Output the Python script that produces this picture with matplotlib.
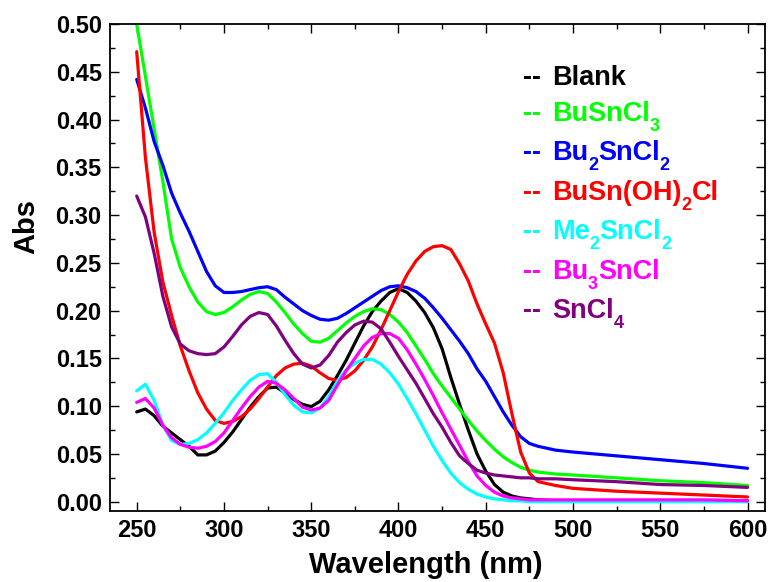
import matplotlib
matplotlib.use("Agg")
import matplotlib.pyplot as plt
from matplotlib.ticker import MultipleLocator, FormatStrFormatter

plt.rcParams['font.family'] = ['Liberation Sans', 'DejaVu Sans']
plt.rcParams['font.weight'] = 'bold'

wavelength = list(range(250, 481, 5)) + [490, 500, 525, 550, 575, 600]

blank = [0.094, 0.097, 0.090, 0.079, 0.072, 0.065, 0.058, 0.049, 0.049, 0.053,
         0.062, 0.073, 0.086, 0.099, 0.110, 0.119, 0.120, 0.114, 0.107, 0.102,
         0.0995, 0.105, 0.117, 0.132, 0.148, 0.166, 0.184, 0.199, 0.210, 0.219,
         0.223, 0.219, 0.210, 0.198, 0.182, 0.160, 0.130, 0.102, 0.075, 0.050,
         0.032, 0.018, 0.010, 0.006, 0.004, 0.003, 0.002,
         0.001, 0.001, 0.001, 0.001, 0.001, 0.001]

busncl3 = [0.500, 0.445, 0.390, 0.335, 0.275, 0.245, 0.225, 0.209, 0.199, 0.196,
           0.198, 0.204, 0.211, 0.217, 0.220, 0.218, 0.209, 0.198, 0.186, 0.176,
           0.168, 0.167, 0.171, 0.179, 0.187, 0.194, 0.199, 0.202, 0.201, 0.196,
           0.188, 0.177, 0.163, 0.149, 0.134, 0.121, 0.109, 0.097, 0.085, 0.074,
           0.064, 0.055, 0.047, 0.041, 0.036, 0.033, 0.031,
           0.029, 0.028, 0.025, 0.022, 0.020, 0.017]

bu2sncl2 = [0.442, 0.412, 0.377, 0.352, 0.323, 0.302, 0.283, 0.262, 0.241, 0.226,
            0.219, 0.219, 0.220, 0.222, 0.224, 0.225, 0.222, 0.214, 0.207, 0.200,
            0.195, 0.191, 0.190, 0.192, 0.197, 0.203, 0.209, 0.215, 0.221, 0.225,
            0.226, 0.224, 0.220, 0.213, 0.203, 0.192, 0.180, 0.168, 0.155, 0.139,
            0.126, 0.110, 0.094, 0.080, 0.068, 0.061, 0.058,
            0.054, 0.052, 0.048, 0.044, 0.040, 0.035]

busnoh2cl = [0.471, 0.360, 0.282, 0.230, 0.195, 0.163, 0.137, 0.114, 0.097, 0.085,
             0.082, 0.084, 0.089, 0.097, 0.108, 0.120, 0.132, 0.140, 0.144, 0.145,
             0.142, 0.135, 0.129, 0.127, 0.130, 0.137, 0.148, 0.162, 0.180, 0.200,
             0.220, 0.238, 0.252, 0.262, 0.267, 0.268, 0.264, 0.249, 0.231, 0.207,
             0.186, 0.166, 0.135, 0.092, 0.052, 0.030, 0.021,
             0.017, 0.014, 0.011, 0.009, 0.007, 0.005]

me2sncl2 = [0.116, 0.123, 0.106, 0.080, 0.064, 0.060, 0.061, 0.065, 0.072, 0.082,
            0.093, 0.106, 0.117, 0.127, 0.133, 0.134, 0.125, 0.112, 0.101, 0.094,
            0.093, 0.098, 0.110, 0.126, 0.138, 0.145, 0.149, 0.149, 0.144, 0.135,
            0.123, 0.108, 0.092, 0.075, 0.058, 0.043, 0.030, 0.020, 0.013, 0.008,
            0.005, 0.003, 0.002, 0.001, 0.001, 0.000, 0.000,
            0.000, 0.000, 0.000, 0.000, 0.000, 0.000]

bu3sncl = [0.104, 0.108, 0.098, 0.080, 0.067, 0.060, 0.057, 0.056, 0.058, 0.063,
           0.072, 0.085, 0.098, 0.110, 0.120, 0.126, 0.124, 0.117, 0.108, 0.099,
           0.096, 0.098, 0.106, 0.122, 0.137, 0.150, 0.163, 0.172, 0.176, 0.176,
           0.171, 0.159, 0.144, 0.128, 0.111, 0.093, 0.076, 0.059, 0.042, 0.027,
           0.017, 0.010, 0.006, 0.004, 0.003, 0.002, 0.002,
           0.002, 0.002, 0.002, 0.002, 0.002, 0.001]

sncl4 = [0.320, 0.298, 0.260, 0.215, 0.183, 0.165, 0.158, 0.155, 0.154, 0.155,
         0.162, 0.173, 0.185, 0.194, 0.198, 0.196, 0.184, 0.169, 0.155, 0.144,
         0.140, 0.143, 0.153, 0.167, 0.177, 0.185, 0.189, 0.188, 0.181, 0.167,
         0.152, 0.138, 0.124, 0.108, 0.092, 0.078, 0.062, 0.048, 0.040, 0.033,
         0.030, 0.028, 0.027, 0.026, 0.025, 0.025, 0.024,
         0.024, 0.023, 0.021, 0.018, 0.017, 0.015]

# legend labels: (text, is_subscript) pieces
labels = [
    [("Blank", 0)],
    [("BuSnCl", 0), ("3", 1)],
    [("Bu", 0), ("2", 1), ("SnCl", 0), ("2", 1)],
    [("BuSn(OH)", 0), ("2", 1), ("Cl", 0)],
    [("Me", 0), ("2", 1), ("SnCl", 0), ("2", 1)],
    [("Bu", 0), ("3", 1), ("SnCl", 0)],
    [("SnCl", 0), ("4", 1)],
]
colors = ['#000000', '#00ff00', '#0000ff', '#ff0000', '#00ffff', '#ff00ff', '#800080']
data = [blank, busncl3, bu2sncl2, busnoh2cl, me2sncl2, bu3sncl, sncl4]

W, H = 773, 582
fig = plt.figure(figsize=(W/100, H/100), dpi=100)
ax = fig.add_axes([110/W, 1-511/H, (765-110)/W, (511-24)/H])

for vals, col in zip(data, colors):
    ax.plot(wavelength, vals, color=col, lw=2.3, solid_joinstyle='round',
            solid_capstyle='round')

ax.set_xlim(234.7, 610)
ax.set_ylim(-0.0097, 0.5)
ax.xaxis.set_major_locator(MultipleLocator(50))
ax.xaxis.set_minor_locator(MultipleLocator(25))
ax.yaxis.set_major_locator(MultipleLocator(0.05))
ax.yaxis.set_minor_locator(MultipleLocator(0.025))
ax.yaxis.set_major_formatter(FormatStrFormatter('%.2f'))
ax.tick_params(which='both', direction='in', top=True, right=True, width=1.0)
ax.tick_params(which='major', length=6.5, labelsize=17, pad=6)
ax.tick_params(which='minor', length=3.5)
for lbl in ax.get_xticklabels() + ax.get_yticklabels():
    lbl.set_fontweight('bold')
for s in ax.spines.values():
    s.set_linewidth(1.3)

ax.set_xlabel('Wavelength (nm)', fontsize=21, fontweight='bold')
ax.set_ylabel('Abs', fontsize=21, fontweight='bold')
ax.xaxis.set_label_coords(0.4817, -0.082)
ax.yaxis.set_label_coords(-0.107, 0.585)

# legend drawn as coloured text pieces with dropped subscripts
renderer = fig.canvas.get_renderer()
base = [85, 121, 160, 200, 239, 279, 318]
for parts, col, b in zip(labels, colors, base):
    fig.text(523/W, 1-b/H, '--', color=col, fontsize=19.5, fontweight='bold',
             va='baseline', ha='left')
    x = 552
    for txt, sub in parts:
        fs = 13 if sub else 19.5
        y = b + (10 if sub else 0)
        t = fig.text(x/W, 1-y/H, txt, color=col, fontsize=fs, fontweight='bold',
                     va='baseline', ha='left')
        x += t.get_window_extent(renderer).width

fig.savefig('out.png', dpi=100)
